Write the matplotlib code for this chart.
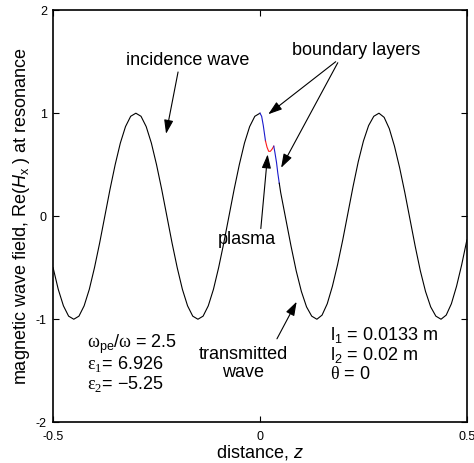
"""Magnetic wave field Re(Hx) at resonance across a plasma slab with boundary layers."""

import numpy as np
import matplotlib
matplotlib.use("Agg")
import matplotlib.pyplot as plt


# figure size in pixels
WIDTH = 474
HEIGHT = 463
DPI = 100

# incidence wave (z < 0), sampled every 0.0125
incident_z = np.linspace(-0.5, 0.0, 41)
incident_h = [-0.50, -0.71, -0.87, -0.97, -1.00, -0.97, -0.87, -0.71, -0.50, -0.26,
              0.00, 0.26, 0.50, 0.71, 0.87, 0.97, 1.00, 0.97, 0.87, 0.71,
              0.50, 0.26, 0.00, -0.26, -0.50, -0.71, -0.87, -0.97, -1.00, -0.97,
              -0.87, -0.71, -0.50, -0.26, 0.00, 0.26, 0.50, 0.71, 0.87, 0.97,
              1.00]

# first boundary layer
layer1_z = [0.0, 0.004, 0.008, 0.0133]
layer1_h = [1.00, 0.97, 0.88, 0.73]

# plasma
plasma_z = [0.0133, 0.017, 0.021, 0.025, 0.029, 0.0333]
plasma_h = [0.73, 0.67, 0.63, 0.63, 0.65, 0.68]

# second boundary layer
layer2_z = [0.0333, 0.036, 0.040, 0.043, 0.0466]
layer2_h = [0.68, 0.62, 0.52, 0.42, 0.32]

# transmitted wave
transmitted_z = [0.0466] + list(np.linspace(0.05, 0.5, 37))
transmitted_h = [0.32, 0.23, -0.03, -0.29, -0.53, -0.73, -0.88, -0.97, -1.00, -0.96,
                 -0.85, -0.68, -0.47, -0.23, 0.03, 0.29, 0.53, 0.73, 0.88, 0.97,
                 1.00, 0.96, 0.85, 0.68, 0.47, 0.23, -0.03, -0.29, -0.53, -0.73,
                 -0.88, -0.97, -1.00, -0.96, -0.85, -0.68, -0.47, -0.23]

x_ticks = [-0.5, 0, 0.5]
x_tick_labels = ["-0.5", "0", "0.5"]
y_ticks = [-2, -1, 0, 1, 2]
y_tick_labels = ["-2", "-1", "0", "1", "2"]

plasma_params = [r"$\mathsf{\omega}_{\mathrm{pe}}/\mathsf{\omega}$ = 2.5",
                 r"$\mathsf{\varepsilon}_{\mathsf{1}}$= 6.926",
                 r"$\mathsf{\varepsilon}_{\mathsf{2}}$= $-$5.25"]
slab_params = [r"l$_{1}$ = 0.0133 m",
               r"l$_{2}$ = 0.02 m",
               r"$\mathsf{\theta}$ = 0"]


def setup_fonts():
    """Helvetica-like text, Greek letters from a serif face."""
    plt.rcParams["font.family"] = ["Liberation Sans", "DejaVu Sans"]
    plt.rcParams["mathtext.fontset"] = "custom"
    plt.rcParams["mathtext.rm"] = "Liberation Sans"
    plt.rcParams["mathtext.it"] = "Liberation Sans:italic"
    plt.rcParams["mathtext.sf"] = "Liberation Serif"
    plt.rcParams["axes.unicode_minus"] = False


def plot_wave(ax):
    """Plot the wave, boundary layers in blue and plasma in red."""
    ax.plot(incident_z, incident_h, "k-", lw=0.8)
    ax.plot(layer1_z, layer1_h, color="#1a1acc", lw=0.8)
    ax.plot(plasma_z, plasma_h, color="#ff1a1a", lw=0.8)
    ax.plot(layer2_z, layer2_h, color="#1a1acc", lw=0.8)
    ax.plot(transmitted_z, transmitted_h, "k-", lw=0.8)


def arrow(ax, tip, tail):
    ax.annotate("", xy=tip, xytext=tail,
                arrowprops=dict(arrowstyle="-|>,head_length=0.6,head_width=0.2",
                                color="k", lw=0.8,
                                mutation_scale=14, shrinkA=0, shrinkB=0))


def add_annotations(ax):
    ax.text(-0.174, 1.51, "incidence wave", ha="center", va="center", fontsize=13)
    arrow(ax, (-0.227, 0.80), (-0.198, 1.40))

    ax.text(0.232, 1.61, "boundary layers", ha="center", va="center", fontsize=13)
    arrow(ax, (0.020, 0.99), (0.183, 1.50))
    arrow(ax, (0.051, 0.47), (0.188, 1.49))

    ax.text(-0.031, -0.23, "plasma", ha="center", va="center", fontsize=13)
    arrow(ax, (0.0185, 0.60), (0.002, -0.12))

    ax.text(-0.041, -1.43, "transmitted\nwave", ha="center", va="center",
            fontsize=13, linespacing=1.1)
    arrow(ax, (0.0886, -0.83), (0.041, -1.19))

    for i, line in enumerate(plasma_params):
        ax.text(-0.418, -1.24 - i * 0.195, line, ha="left", va="center", fontsize=13)
    for i, line in enumerate(slab_params):
        ax.text(0.169, -1.15 - i * 0.195, line, ha="left", va="center", fontsize=13)


def draw_graph():
    setup_fonts()
    fig = plt.figure(figsize=(WIDTH / DPI, HEIGHT / DPI), dpi=DPI)
    ax = fig.add_axes([0.112, 0.088, 0.873, 0.890])

    plot_wave(ax)
    add_annotations(ax)

    ax.set_xlim(-0.5, 0.5)
    ax.set_ylim(-2, 2)
    ax.set_xticks(x_ticks)
    ax.set_xticklabels(x_tick_labels)
    ax.set_yticks(y_ticks)
    ax.set_yticklabels(y_tick_labels)
    ax.tick_params(direction="in", length=4, width=0.8, labelsize=9,
                   top=True, right=True)
    ax.tick_params(axis="x", pad=6)
    ax.tick_params(axis="y", pad=4.5)
    for spine in ax.spines.values():
        spine.set_linewidth(1.2)

    ax.set_xlabel(r"distance, $z$", fontsize=13, labelpad=0)
    ax.set_ylabel(r"magnetic wave field, Re($H_{\mathrm{x}}$ ) at resonance",
                  fontsize=13, labelpad=3)

    fig.savefig("out.png", dpi=DPI)
    plt.close(fig)


if __name__ == "__main__":
    draw_graph()
